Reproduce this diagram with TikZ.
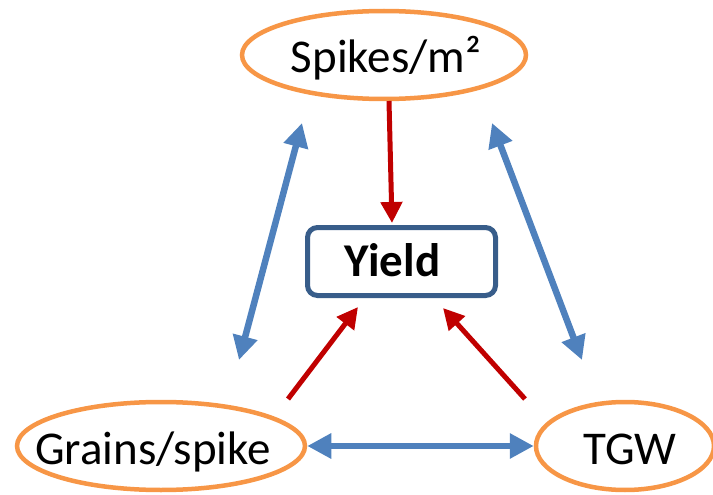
\documentclass[tikz,border=0pt]{standalone}
\usepackage{fontspec}
\setmainfont{Carlito}
\usetikzlibrary{shapes.geometric,arrows.meta}
\definecolor{ellorange}{HTML}{F79646}
\definecolor{arrblue}{HTML}{4F81BD}
\definecolor{arrred}{HTML}{C00000}
\definecolor{boxblue}{HTML}{385D8A}
\newcommand{\shiftedtext}[2]{\makebox[0pt]{\kern#1\relax #2}}
\tikzset{
  oval/.style={ellipse, draw=ellorange, line width=4.5pt, fill=white, inner sep=0pt,
    minimum height=88pt, text height=36pt, text depth=0pt,
    font=\fontsize{47}{56}\selectfont},
  yieldbox/.style={rectangle, rounded corners=10pt, draw=boxblue, line width=5pt,
    fill=white, minimum width=188pt, minimum height=68pt, inner sep=0pt,
    text height=30pt, text depth=0pt,
    font=\fontsize{47}{56}\selectfont\bfseries},
  bluearr/.style={draw=arrblue, line width=6.5pt,
    {Triangle[length=24pt,width=24pt]}-{Triangle[length=24pt,width=24pt]}},
  redarr/.style={draw=arrred, line width=5pt, -{Triangle[length=21pt,width=21pt]}}
}
\begin{document}
\begin{tikzpicture}[x=1pt,y=-1pt]
\useasboundingbox (0,0) rectangle (713,495);
\node[oval, minimum width=284pt] (sp) at (384,55) {\shiftedtext{4pt}{Spikes/m²}};
\node[oval, minimum width=288pt] (gr) at (161,446) {\shiftedtext{-16pt}{Grains/spike}};
\node[oval, minimum width=178pt] (tgw) at (625,446) {\shiftedtext{10pt}{TGW}};
\node[yieldbox] (yield) at (401.5,261.5) {\shiftedtext{-18pt}{Yield}};
% free ends
\coordinate (l1) at (302,123);
\coordinate (l2) at (239,360);
\coordinate (r1) at (492,123);
\coordinate (r2) at (582,360);
\coordinate (s1) at (389,101);
\coordinate (s2) at (392,223);
\coordinate (g1) at (288,399);
\coordinate (g2) at (358,307);
\coordinate (t1) at (525,399);
\coordinate (t2) at (443,308);
\draw[bluearr] (l1) -- (l2);
\draw[bluearr] (r1) -- (r2);
\draw[bluearr] (gr.east) -- (tgw.west);
\draw[redarr] (s1) -- (s2);
\draw[redarr] (g1) -- (g2);
\draw[redarr] (t1) -- (t2);
\end{tikzpicture}
\end{document}
